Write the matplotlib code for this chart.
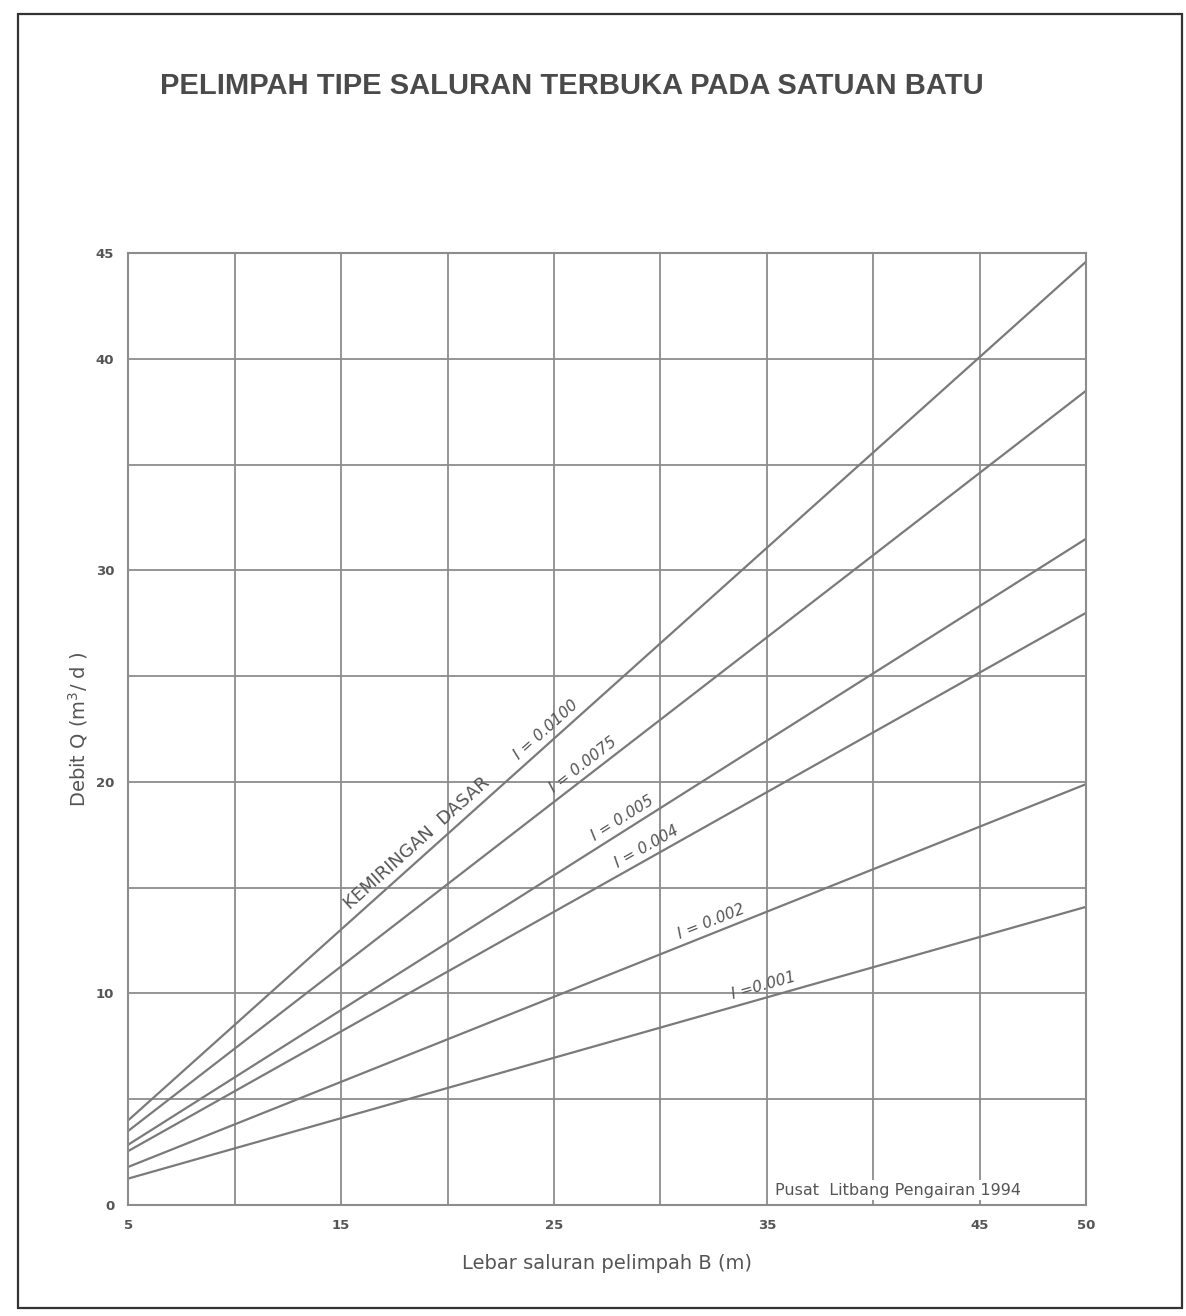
import numpy as np
import matplotlib.pyplot as plt
from matplotlib.patches import Rectangle

# Lebar saluran B (m) - ujung kiri dan kanan garis
lebar = [5, 50]

# Debit Q (m3/d), tiap kemiringan dasar
q_0100 = [4.0, 44.6]
q_0075 = [3.5, 38.5]
q_0050 = [2.85, 31.5]
q_0040 = [2.55, 28.0]
q_0020 = [1.8, 19.9]
q_0010 = [1.25, 14.1]

label_garis = ['I = 0.0100', 'I = 0.0075', 'I = 0.005', 'I = 0.004', 'I = 0.002', 'I =0.001']

x_ticks = [5, 10, 15, 20, 25, 30, 35, 40, 45, 50]
x_labels = ['5', '', '15', '', '25', '', '35', '', '45', '50']
y_ticks = [0, 5, 10, 15, 20, 25, 30, 35, 40, 45]
y_labels = ['0', '', '10', '', '20', '', '30', '', '40', '45']

abu = '#7a7a7a'
teks = '#555555'

fig = plt.figure(figsize=(11.86, 13.16), dpi=100)
ax = fig.add_axes([0.108, 0.0843, 0.808, 0.7235])

ax.set_xlim(5, 50)
ax.set_ylim(0, 45)
ax.set_xticks(x_ticks)
ax.set_xticklabels(x_labels)
ax.set_yticks(y_ticks)
ax.set_yticklabels(y_labels)
ax.tick_params(length=0, pad=10, labelsize=9.5, labelcolor=teks)
for lbl in ax.get_xticklabels() + ax.get_yticklabels():
    lbl.set_fontweight('bold')
ax.grid(True, color='#8c8c8c', lw=1.3)
ax.set_axisbelow(True)
for s in ax.spines.values():
    s.set_color('#8c8c8c')
    s.set_linewidth(1.5)

semua = [q_0100, q_0075, q_0050, q_0040, q_0020, q_0010]
for q in semua:
    ax.plot(lebar, q, color=abu, lw=1.6)

# posisi label sepanjang garis (x data)
pos_label = [25.0, 26.7, 28.5, 29.6, 32.6, 35.0]


def sudut(q):
    p = ax.transData.transform(np.column_stack([lebar, q]))
    return np.degrees(np.arctan2(p[1, 1] - p[0, 1], p[1, 0] - p[0, 0]))


for q, txt, xl in zip(semua, label_garis, pos_label):
    yl = np.interp(xl, lebar, q)
    a = sudut(q)
    off = (-np.sin(np.radians(a)) * 3, np.cos(np.radians(a)) * 3)
    ax.annotate(txt, (xl, yl), xytext=off, textcoords='offset points',
                rotation=a, rotation_mode='anchor', ha='center', va='bottom',
                fontsize=11, style='italic', color=teks)

a = sudut(q_0100)
off = (-np.sin(np.radians(a)) * 3, np.cos(np.radians(a)) * 3)
ax.annotate('KEMIRINGAN  DASAR', (19.0, np.interp(19.0, lebar, q_0100)), xytext=off,
            textcoords='offset points', rotation=a, rotation_mode='anchor',
            ha='center', va='bottom', fontsize=13, color=teks)

ax.text(35.4, 0.35, 'Pusat  Litbang Pengairan 1994',
        ha='left', va='bottom', fontsize=11.5, color=teks,
        bbox=dict(facecolor='white', edgecolor='none', pad=2))

ax.set_xlabel('Lebar saluran pelimpah B (m)', fontsize=14, color=teks, labelpad=16)
ax.set_ylabel('Debit Q (m$^3$/ d )', fontsize=14, color=teks, labelpad=4)

fig.text(0.482, 0.935, 'PELIMPAH TIPE SALURAN TERBUKA PADA SATUAN BATU',
         ha='center', va='center', fontsize=21, color='#4a4a4a', fontweight='bold',
         family=['Liberation Sans', 'DejaVu Sans'])

fig.patches.append(Rectangle((0.015, 0.006), 0.982, 0.983, transform=fig.transFigure,
                             fill=False, edgecolor='#333333', lw=1.6))

fig.savefig('out.png', dpi=100)
